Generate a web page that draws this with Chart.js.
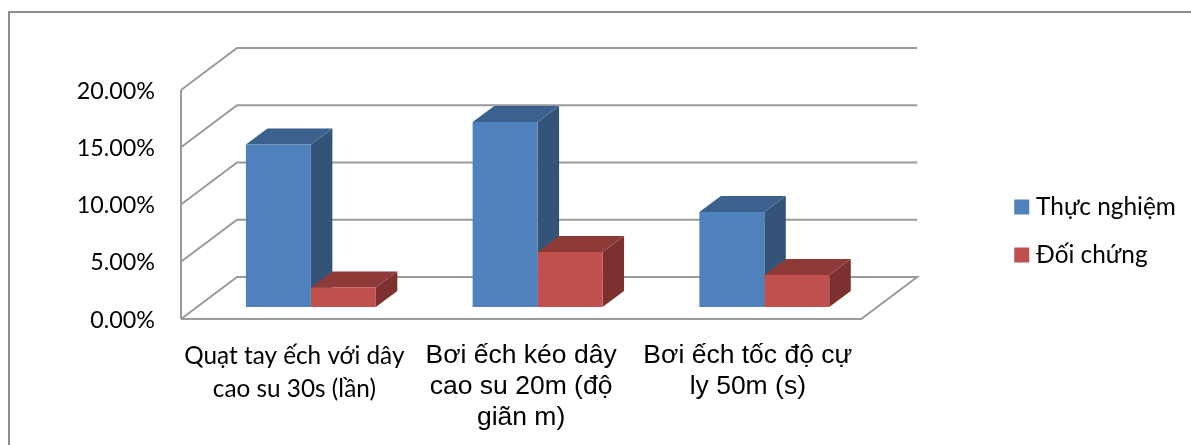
<!DOCTYPE html>
<html>
<head>
<meta charset="utf-8">
<style>
  html, body { margin: 0; padding: 0; background: #fff; overflow: hidden; }
  #wrap { position: relative; width: 1191px; height: 445px; }
  #frame { position: absolute; left: 8px; top: 11px; right: -5px; bottom: -5px; border: 2px solid #8e8e8e; }
  canvas { position: absolute; left: 0; top: 0; }
</style>
</head>
<body>
<div id="wrap">
  <div id="frame"></div>
  <canvas id="myChart" width="1191" height="445"></canvas>
</div>
<script src="https://cdn.jsdelivr.net/npm/chart.js@4"></script>
<script>
const categories = [
    ['Quạt tay ếch với dây', 'cao su 30s (lần)'],
    ['Bơi ếch kéo dây', 'cao su 20m (độ', 'giãn m)'],
    ['Bơi ếch tốc độ cự', 'ly 50m (s)']
];
const seriesNames = ['Thực nghiệm', 'Đối chứng'];
const thucNghiem = [14.2, 16.15, 8.3];
const doiChung = [1.7, 4.8, 2.8];

const colors = ['#4f81bd', '#c0504d'];
const topColors = ['#3c618f', '#8e3a38'];
const sideColors = ['#335478', '#7d312f'];
const gridColor = '#9a9a9a';
const bodyFont = 'Lato';
const arialFont = '"Liberation Sans"';

// chieu sau 3D
const wallDX = 56, wallDY = 42;
const barDX = 21.5, barDY = 16;
const barShiftX = 16.5, barShiftY = -12;

function line(ctx, pts) {
    ctx.beginPath();
    pts.forEach((p, i) => i ? ctx.lineTo(p[0], p[1]) : ctx.moveTo(p[0], p[1]));
    ctx.stroke();
}

function poly(ctx, pts, fill) {
    ctx.beginPath();
    pts.forEach((p, i) => i ? ctx.lineTo(p[0], p[1]) : ctx.moveTo(p[0], p[1]));
    ctx.closePath();
    ctx.fillStyle = fill;
    ctx.fill();
}

const box3d = {
    id: 'box3d',
    afterLayout(chart) {
        // dat lai vi tri chu giai
        const lg = chart.legend;
        const w = lg.width;
        lg.left = 996; lg.right = lg.left + w;
        lg.top = 17; lg.bottom = 445;
    },
    beforeDatasetsDraw(chart) {
        const ctx = chart.ctx;
        const a = chart.chartArea;
        const y = chart.scales.y;

        ctx.save();
        ctx.strokeStyle = gridColor;
        ctx.lineWidth = 2;
        y.ticks.forEach(t => {
            const py = y.getPixelForValue(t.value);
            if (t.value === 0) {
                line(ctx, [[a.left, py], [a.left + wallDX, py - wallDY], [a.right + wallDX, py - wallDY], [a.right, py], [a.left, py]]);
            } else {
                line(ctx, [[a.left, py], [a.left + wallDX, py - wallDY], [a.right + wallDX, py - wallDY]]);
            }
        });
        line(ctx, [[a.left, a.top], [a.left, a.bottom]]);
        ctx.restore();

        ctx.save();
        ctx.translate(barShiftX, barShiftY);
        chart.data.datasets.forEach((ds, i) => {
            chart.getDatasetMeta(i).data.forEach(bar => {
                const p = bar.getProps(['x', 'y', 'width', 'base'], true);
                const r = p.x + p.width / 2, l = p.x - p.width / 2;
                poly(ctx, [[r, p.y], [r + barDX, p.y - barDY], [r + barDX, p.base - barDY], [r, p.base]], sideColors[i]);
                poly(ctx, [[l, p.y], [r, p.y], [r + barDX, p.y - barDY], [l + barDX, p.y - barDY]], topColors[i]);
            });
        });
        // giu translate cho phan mat truoc, restore o afterDatasetsDraw
    },
    afterDatasetsDraw(chart) {
        chart.ctx.restore();
    }
};

new Chart(document.getElementById('myChart'), {
    type: 'bar',
    data: {
        labels: categories,
        datasets: [
            { label: seriesNames[0], data: thucNghiem, backgroundColor: colors[0], clip: false },
            { label: seriesNames[1], data: doiChung, backgroundColor: colors[1], clip: false }
        ]
    },
    options: {
        responsive: false,
        animation: false,
        layout: { padding: { left: 10, top: 90, right: 140, bottom: 0 } },
        datasets: { bar: { barPercentage: 1, categoryPercentage: 0.573 } },
        plugins: {
            title: { display: false },
            tooltip: { enabled: false },
            legend: {
                position: 'right',
                labels: {
                    color: '#000',
                    font: { family: bodyFont, size: 24.4 },
                    usePointStyle: true,
                    pointStyle: 'rect',
                    boxWidth: 4.3,
                    boxHeight: 15,
                    padding: 23.6
                }
            }
        },
        scales: {
            x: {
                grid: { display: false },
                border: { display: false },
                afterFit: s => { s.height = 126; },
                ticks: {
                    color: '#000',
                    autoSkip: false,
                    maxRotation: 0,
                    padding: 13,
                    font: c => c.index === 0
                        ? { family: bodyFont, size: 24.3, lineHeight: 1.36 }
                        : { family: arialFont, size: 26.5, lineHeight: 1.17 }
                }
            },
            y: {
                min: 0,
                max: 20,
                grid: { display: false },
                border: { display: false },
                afterFit: s => { s.width = 171; },
                ticks: {
                    stepSize: 5,
                    color: '#000',
                    padding: 18,
                    labelOffset: 1,
                    font: { family: bodyFont, size: 23.3 },
                    callback: v => v.toFixed(2) + '%'
                }
            }
        }
    },
    plugins: [box3d]
});
</script>
</body>
</html>
